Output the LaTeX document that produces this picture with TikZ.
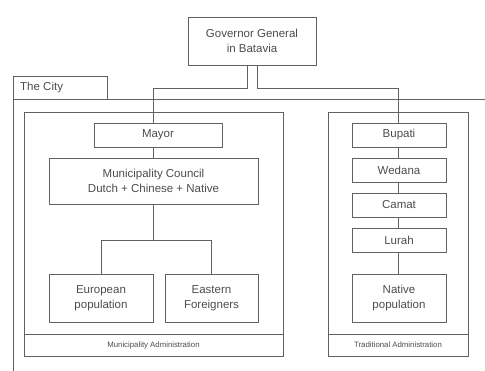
\documentclass[tikz,border=0pt]{standalone}
\usepackage{fontspec}
\setmainfont{Liberation Sans}
\definecolor{linegray}{gray}{0.38}
\definecolor{textgray}{gray}{0.3}
\tikzset{
  unit/.style = {draw=linegray, line width=0.8pt, text=textgray, align=center,
                 inner sep=0pt, font=\fontsize{11.5}{14.5}\selectfont},
  frame/.style = {draw=linegray, line width=0.8pt},
  conn/.style = {draw=linegray, line width=0.8pt},
  tag/.style = {text=textgray, inner sep=0pt, font=\fontsize{7.8}{9}\selectfont}
}

\begin{document}
\begin{tikzpicture}[x=1pt, y=-1pt]
            \useasboundingbox (0,0) rectangle (485,371);
            % the city frame with its tab
            \draw[frame] (485,99) -- (13,99) -- (13,371);
            \draw[frame] (13,99) |- (107,76) -- (107,99);
            \node[text=textgray, anchor=west, inner sep=0pt, font=\fontsize{11.5}{14}\selectfont] (city) at (20,88) {The City};
            % administrations
            \draw[frame] (24,112) rectangle (283,356);
            \draw[frame] (24,334) -- (283,334);
            \node[tag] (munadm) at (153.5,345) {Municipality Administration};
            \draw[frame] (328,112) rectangle (468,356);
            \draw[frame] (328,334) -- (468,334);
            \node[tag] (tradadm) at (398,345) {Traditional Administration};
            % units
            \node[unit, minimum width=128pt, minimum height=48pt] (gov) at (252,41) {Governor General\\in Batavia};
            \node[unit, minimum width=128pt, minimum height=24pt] (mayor) at (158,135) {Mayor};
            \node[unit, minimum width=209pt, minimum height=46pt] (council) at (153.5,181) {Municipality Council\\Dutch + Chinese + Native};
            \node[unit, minimum width=104pt, minimum height=48pt] (euro) at (101,298) {European\\population};
            \node[unit, minimum width=93pt, minimum height=48pt] (east) at (211.5,298) {Eastern\\Foreigners};
            \node[unit, minimum width=94pt, minimum height=24pt] (bupati) at (399,135) {Bupati};
            \node[unit, minimum width=94pt, minimum height=24pt] (wedana) at (399,170) {Wedana};
            \node[unit, minimum width=94pt, minimum height=24pt] (camat) at (399,205) {Camat};
            \node[unit, minimum width=94pt, minimum height=24pt] (lurah) at (399,240) {Lurah};
            \node[unit, minimum width=94pt, minimum height=48pt] (native) at (399,298) {Native\\population};
            % connectors
            \draw[conn] ([xshift=-5pt]gov.south) -- ++(0,23) -| (council.north |- mayor.north);
            \draw[conn] ([xshift=5pt]gov.south) -- ++(0,23) -| ([xshift=-1pt]bupati.north);
            \draw[conn] (mayor.south -| council.north) -- (council.north);
            \draw[conn] (council.south) -- ++(0,36) -| (euro.north);
            \draw[conn] (council.south) ++(0,36) -| (east.north);
            \draw[conn] ([xshift=-1pt]bupati.south) -- ([xshift=-1pt]wedana.north);
            \draw[conn] ([xshift=-1pt]wedana.south) -- ([xshift=-1pt]camat.north);
            \draw[conn] ([xshift=-1pt]camat.south) -- ([xshift=-1pt]lurah.north);
            \draw[conn] ([xshift=-1pt]lurah.south) -- ([xshift=-1pt]native.north);
        \end{tikzpicture}
\end{document}
